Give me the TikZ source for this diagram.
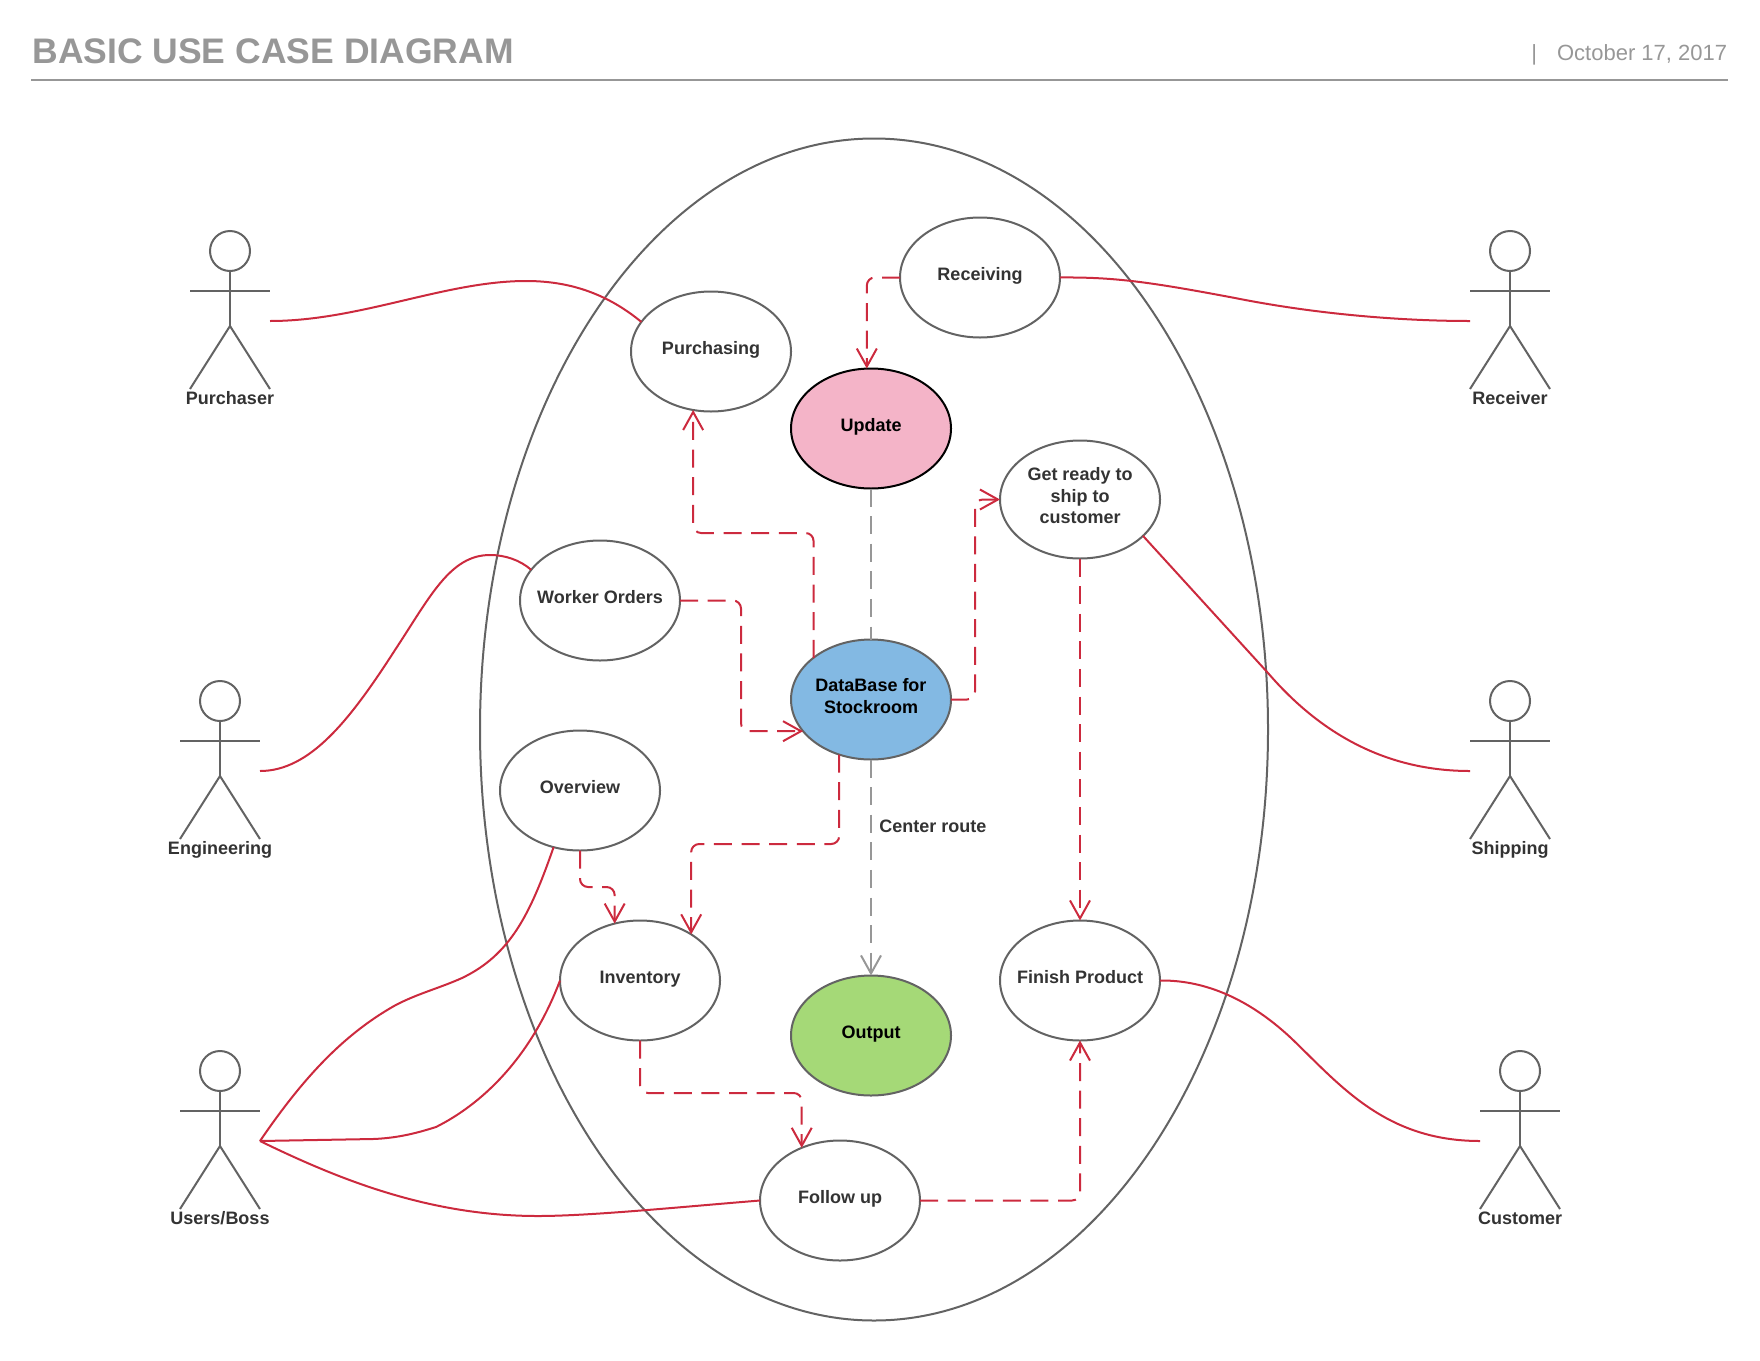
\documentclass[tikz,border=0pt]{standalone}
\usepackage{fontspec}
\setmainfont{Liberation Sans}
\usetikzlibrary{shapes.geometric,arrows.meta,calc}
\definecolor{lineg}{HTML}{636363}
\definecolor{redl}{HTML}{CC2A3E}
\definecolor{capg}{HTML}{979797}
\definecolor{txtd}{HTML}{333333}
\definecolor{pinkf}{HTML}{F4B4C8}
\definecolor{bluef}{HTML}{83B9E3}
\definecolor{greenf}{HTML}{A5D977}
\newcommand\lift[2][-1.6pt]{\raisebox{#1}[0pt][0pt]{\makebox[0pt][c]{#2}}}
\newcommand\stacked[1]{\lift[-1.5pt]{\begin{tabular}{@{}c@{}}#1\end{tabular}}}
\newcommand\actor[4]{%
  \node[head] (#3h) at (#1,#2+20) {};
  \draw[stick] (#3h.south) -- (#1,#2+95);
  \draw[stick] (#1-40,#2+60) -- (#1+40,#2+60);
  \draw[stick] (#1-40,#2+158) -- (#1,#2+95) -- (#1+40,#2+158);
  \node[actorlabel] (#3l) at (#1,#2+166) {\lift[-3.6pt]{#4}};
}
\tikzset{
  x=0.5pt,y=-0.5pt,
  uc/.style={ellipse,draw=lineg,line width=1pt,minimum width=80pt,minimum height=60pt,inner sep=0pt,outer sep=0pt,fill=white,
    font=\fontsize{9}{10.8}\selectfont\bfseries,text=txtd},
  head/.style={circle,draw=lineg,line width=1pt,minimum size=20pt,inner sep=0pt,outer sep=0pt},
  stick/.style={draw=lineg,line width=1pt},
  actorlabel/.style={inner sep=0pt,font=\fontsize{9}{10.8}\selectfont\bfseries,text=txtd},
  rdash/.style={draw=redl,line width=1pt,rounded corners=4pt,dash pattern=on 9pt off 4.8pt},
  vtip/.style={-{Straight Barb[length=9pt,width=10pt]}},
  gdash/.style={draw=capg,line width=1pt,dash pattern=on 9pt off 4.8pt},
  curve/.style={draw=redl,line width=1pt},
}
\begin{document}
\begin{tikzpicture}
\useasboundingbox (0,0) rectangle (1760,1360);
% header
\node[anchor=west,inner sep=0pt,font=\fontsize{17.75}{20}\selectfont\bfseries,text=capg] (title) at (32,51) {BASIC USE CASE DIAGRAM};
\node[anchor=east,inner sep=0pt,font=\fontsize{11}{13}\selectfont,text=capg] (date) at (1727.5,55) {|\hspace{10pt}October 17, 2017};
\coordinate (ruleL) at (31,80);
\coordinate (ruleR) at (1728,80);
\draw[capg,line width=1pt] (ruleL) -- (ruleR);
% system boundary
\node[ellipse,draw=lineg,line width=1pt,minimum width=394pt,minimum height=591pt,inner sep=0pt,outer sep=0pt] (sys) at (874,729.5) {};
% use cases
\node[uc] (re) at (980,277.5) {\lift{Receiving}};
\node[uc] (pa) at (711,351.5) {\lift{Purchasing}};
\node[uc,fill=pinkf,draw=black,text=black] (up) at (871,428.5) {\lift{Update}};
\node[uc,minimum height=59pt] (gr) at (1080,499.5) {\stacked{Get ready to\\ship to\\customer}};
\node[uc] (wo) at (600,600.5) {\lift{Worker Orders}};
\node[uc,fill=bluef,text=black] (db) at (871,699.5) {\stacked{DataBase for\\Stockroom}};
\node[uc] (ov) at (580,790.5) {\lift{Overview}};
\node[uc] (in) at (640,980.5) {\lift{Inventory}};
\node[uc,fill=greenf,text=black] (ou) at (871,1035.5) {\lift{Output}};
\node[uc] (fp) at (1080,980.5) {\lift{Finish Product}};
\node[uc] (fu) at (840,1200.5) {\lift{Follow up}};
% actors
\actor{230}{231}{apu}{Purchaser}
\actor{220}{681}{aen}{Engineering}
\actor{220}{1051}{aus}{Users/Boss}
\actor{1510}{231}{are}{Receiver}
\actor{1510}{681}{ash}{Shipping}
\actor{1520}{1051}{acu}{Customer}
\coordinate (hpu) at (270,321);
\coordinate (hen) at (260,771);
\coordinate (hus) at (260,1141);
\coordinate (hre) at (1470,321);
\coordinate (hsh) at (1470,771);
\coordinate (hcu) at (1480,1141);
% solid red curves
\draw[curve] (hpu) .. controls (360,321) and (445,281) .. (526,281) .. controls (567,281) and (605,292) .. (pa.157.5);
\draw[curve] (re.east) .. controls (1115,277) and (1150,282) .. (1235,298) .. controls (1315,314) and (1400,321) .. (hre);
\draw[curve] (hen) .. controls (310,771) and (350,720) .. (395,650) .. controls (430,597) and (450,555) .. (490,555) .. controls (505,555) and (520,560) .. (wo.156.5);
\draw[curve] (gr.-30) -- (1268,673) .. controls (1330,745) and (1400,771) .. (hsh);
\draw[curve] (fp.east) .. controls (1200,980) and (1245,995) .. (1291,1038) .. controls (1340,1085) and (1385,1141) .. (hcu);
\draw[curve] (hus) .. controls (305,1075) and (345,1034) .. (394,1006) .. controls (416,994) and (440,988) .. (462,978) .. controls (510,955) and (530,915) .. (ov.245.5);
\draw[curve] (hus) -- (373,1139) .. controls (400,1138) and (420,1132) .. (436,1127) .. controls (480,1105) and (530,1060) .. (in.west);
\draw[curve] (hus) .. controls (340,1180) and (430,1216) .. (538,1216) .. controls (590,1216) and (680,1207) .. (fu.west);
% dashed red connectors
\draw[rdash,vtip] (re.west) -| (up.94);
\draw[rdash,vtip] (db.144) |- (pa.253 |- 0,533) -- (pa.253);
\draw[rdash,vtip] (db.east) -| (975,0 |- gr.west) -- (gr.west);
\draw[rdash,vtip] (wo.east) -| (741,0 |- db.205) -- (db.205);
\draw[rdash,vtip] (db.240) |- (in.42 |- 0,844) -- (in.42);
\draw[rdash,vtip] (ov.south) |- (in.114.5 |- 0,887) -- (in.114.5);
\draw[rdash,vtip] (in.south) |- (fu.126.3 |- 0,1093) -- (fu.126.3);
\draw[rdash,vtip] (fu.east) -| (fp.south);
\draw[rdash,vtip] (gr.south) -- (fp.north);
% grey route
\draw[gdash] (up.south) -- (db.north);
\draw[gdash,vtip] (db.south) -- (ou.north);
\node[anchor=west,inner sep=0pt,font=\fontsize{9}{10.8}\selectfont\bfseries,text=txtd] (cr) at (879,829) {\raisebox{-1.5pt}[0pt][0pt]{Center route}};
\end{tikzpicture}
\end{document}
